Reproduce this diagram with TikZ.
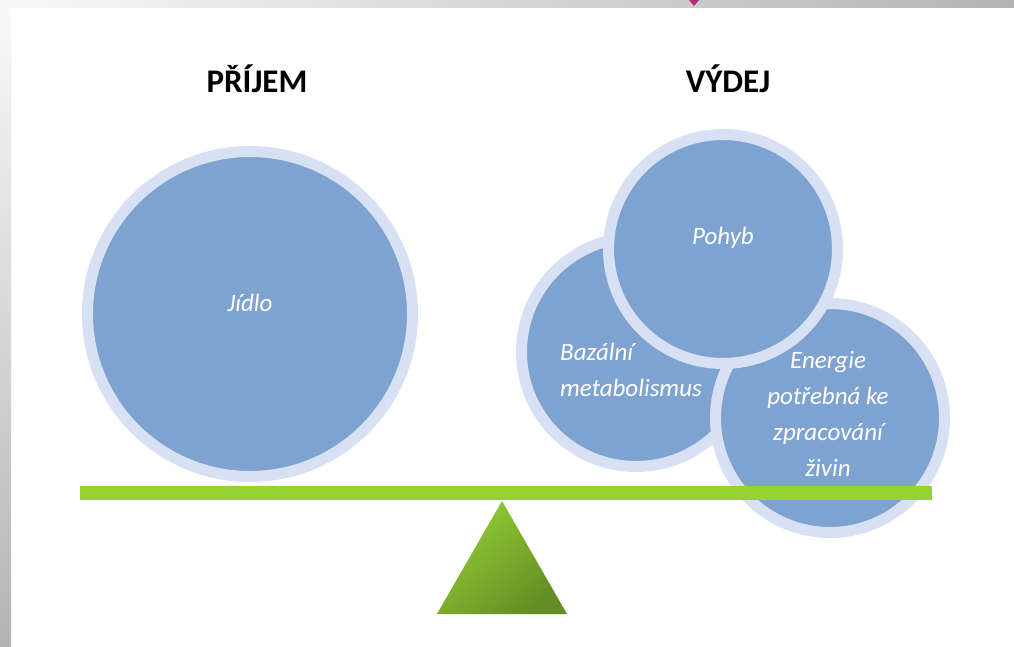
\documentclass[tikz,border=0pt]{standalone}
\usepackage{fontspec}
\setmainfont{Carlito}
\usetikzlibrary{shadings}
\definecolor{bluec}{RGB}{127,163,209}
\definecolor{ringc}{RGB}{215,225,243}
\definecolor{beamc}{RGB}{150,210,50}
\definecolor{trilight}{RGB}{148,204,52}
\definecolor{tridark}{RGB}{98,142,36}
\definecolor{framelight}{RGB}{249,249,249}
\definecolor{framemid}{RGB}{238,238,238}
\definecolor{framedark}{RGB}{180,180,180}
\definecolor{markc}{RGB}{176,44,120}
\begin{document}
\begin{tikzpicture}[x=1pt,y=-1pt,
  ringcirc/.style={circle, draw=ringc, line width=11pt, fill=bluec, inner sep=0pt, outer sep=0pt},
  bigcirc/.style={ringcirc, minimum size=325pt},
  smallcirc/.style={ringcirc, minimum size=229pt},
  circtext/.style={text=white, inner sep=0pt, font=\fontsize{25}{36}\selectfont\itshape},
  titletext/.style={text=black, inner sep=0pt, font=\fontsize{33}{36}\selectfont\bfseries}]
\useasboundingbox (0,0) rectangle (1014,647);
\fill[white] (0,0) rectangle (1014,647);
% frame
\shade[left color=framelight, middle color=framemid, right color=framedark] (0,0) rectangle (1014,8);
\shade[top color=framelight, bottom color=framedark] (0,8) rectangle (11,647);
\fill[markc] (689,0) -- (699,0) -- (694,6) -- cycle;
% titles
\node[titletext] (prijem) at (257,79) {PŘÍJEM};
\node[titletext] (vydej) at (728,79) {VÝDEJ};
% circles
\node[bigcirc] (jidlo) at (250,314) {};
\node[circtext] (jidlot) at (250,303) {Jídlo};
\node[smallcirc] (bazal) at (636,352) {};
\node[smallcirc] (energ) at (830,418) {};
\node[smallcirc] (pohyb) at (723,249) {};
\node[circtext] (pohybt) at (723,238) {Pohyb};
\node[circtext, align=left] (bazalt) at (631,370) {Bazální\\metabolismus};
\node[circtext, align=center] (energt) at (828,414) {Energie\\potřebná ke\\zpracování\\živin};
% beam
\node[fill=beamc, inner sep=0pt, outer sep=0pt, minimum width=852pt, minimum height=14pt] (beam) at (506,493) {};
% fulcrum
\coordinate (apex) at (502,501);
\coordinate (bl) at (437,614);
\coordinate (br) at (567,614);
\shade[top color=trilight, bottom color=tridark, shading angle=40] (apex) -- (br) -- (bl) -- cycle;
\end{tikzpicture}
\end{document}
